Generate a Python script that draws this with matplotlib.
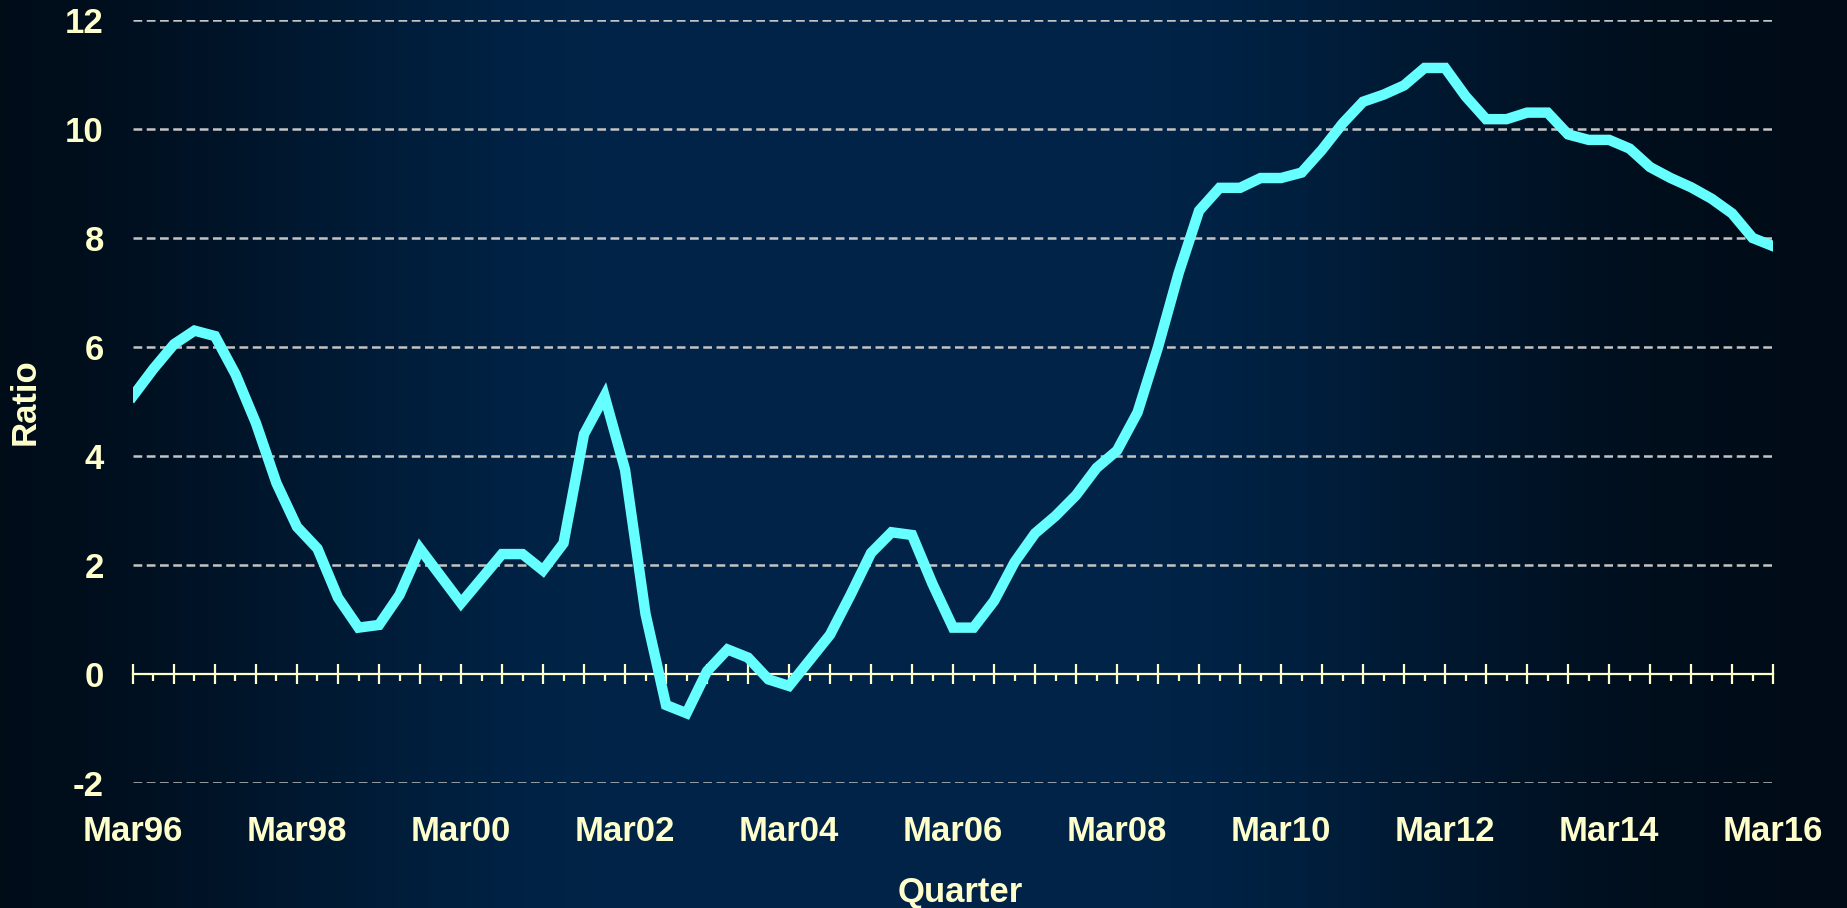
import matplotlib
matplotlib.use("Agg")
import matplotlib.pyplot as plt
import numpy as np

# data: quarterly values Mar96 .. Mar16
ratio = [5.1, 5.6, 6.05, 6.3, 6.2, 5.5, 4.6, 3.5, 2.7, 2.3,
         1.4, 0.85, 0.9, 1.45, 2.3, 1.8, 1.3, 1.75, 2.2, 2.2,
         1.9, 2.4, 4.4, 5.1, 3.75, 1.1, -0.57, -0.72, 0.05, 0.45,
         0.3, -0.1, -0.22, 0.25, 0.72, 1.45, 2.22, 2.6, 2.55, 1.65,
         0.85, 0.85, 1.34, 2.05, 2.58, 2.9, 3.28, 3.78, 4.1, 4.8,
         6.0, 7.35, 8.5, 8.92, 8.92, 9.1, 9.1, 9.2, 9.62, 10.1,
         10.5, 10.63, 10.8, 11.12, 11.12, 10.6, 10.18, 10.18, 10.3, 10.3,
         9.9, 9.8, 9.8, 9.64, 9.3, 9.1, 8.93, 8.72, 8.45, 8.0, 7.85]
year_labels = ["Mar96", "Mar98", "Mar00", "Mar02", "Mar04", "Mar06",
               "Mar08", "Mar10", "Mar12", "Mar14", "Mar16"]
y_ticks = [-2, 0, 2, 4, 6, 8, 10, 12]

txt_col = "#FFFFCC"
plt.rcParams['font.family'] = ['Liberation Sans', 'DejaVu Sans']
plt.rcParams['font.weight'] = 'bold'
fs = 25

fig = plt.figure(figsize=(18.47, 9.08), dpi=100)

# background: dark edges, lighter navy band in the middle
bg = fig.add_axes([0, 0, 1, 1], zorder=-1)
xs = np.linspace(0, 1, 800)
u = np.clip((np.abs(xs - 0.47) - 0.12) / 0.38, 0, 1)
t = 1 - (3 * u**2 - 2 * u**3)
dark = np.array([0.0, 0.047, 0.094])
light = np.array([0.0, 0.141, 0.282])
grad = dark[None, :] + t[:, None] * (light - dark)[None, :]
bg.imshow(grad[None, :, :], aspect='auto', extent=[0, 1, 0, 1])
bg.axis('off')

ax = fig.add_axes([0.072, 0.1377, 0.888, 0.8403])
ax.set_facecolor('none')

x = np.arange(len(ratio))
ax.plot(x, ratio, color="#66FFFF", lw=7.5, solid_joinstyle='miter', zorder=3)

ax.set_xlim(0, len(ratio) - 1)
ax.set_ylim(-2, 12)

# y axis
ax.set_yticks(y_ticks)
ax.set_yticklabels([str(v) for v in y_ticks])
ax.tick_params(axis='y', length=0, pad=21, labelsize=fs, labelcolor=txt_col)
for v in y_ticks:
    if v != 0:
        ax.axhline(v, color="#C4C4C4", lw=1.8, ls=(0, (3.5, 1.8)), zorder=1)

# x axis at zero
for s in ['top', 'right', 'left']:
    ax.spines[s].set_visible(False)
ax.spines['bottom'].set_position(('data', 0))
ax.spines['bottom'].set_color(txt_col)
ax.spines['bottom'].set_linewidth(1.6)
ax.spines['bottom'].set_zorder(2)

major = np.arange(0, len(ratio), 2)
ax.set_xticks(major)
labels = []
for m in major:
    if m % 8 == 0:
        labels.append(year_labels[m // 8])
    else:
        labels.append("")
ax.set_xticklabels(labels)
ax.set_xticks(np.arange(1, len(ratio), 2), minor=True)
ax.tick_params(axis='x', which='major', direction='inout', length=15,
               width=1.6, color=txt_col, pad=94, labelsize=fs, labelcolor=txt_col)
ax.tick_params(axis='x', which='minor', direction='out', length=5,
               width=1.6, color=txt_col)

ax.set_ylabel("Ratio", color=txt_col, fontsize=fs, fontweight='bold')
ax.yaxis.label.set_va('center')
ax.yaxis.set_label_coords(-0.066, 0.5, transform=ax.transAxes)
fig.text(0.52, 0.0176, "Quarter", color=txt_col, fontsize=fs, fontweight='bold',
         ha='center', va='center')

fig.savefig("out.png", dpi=100)
